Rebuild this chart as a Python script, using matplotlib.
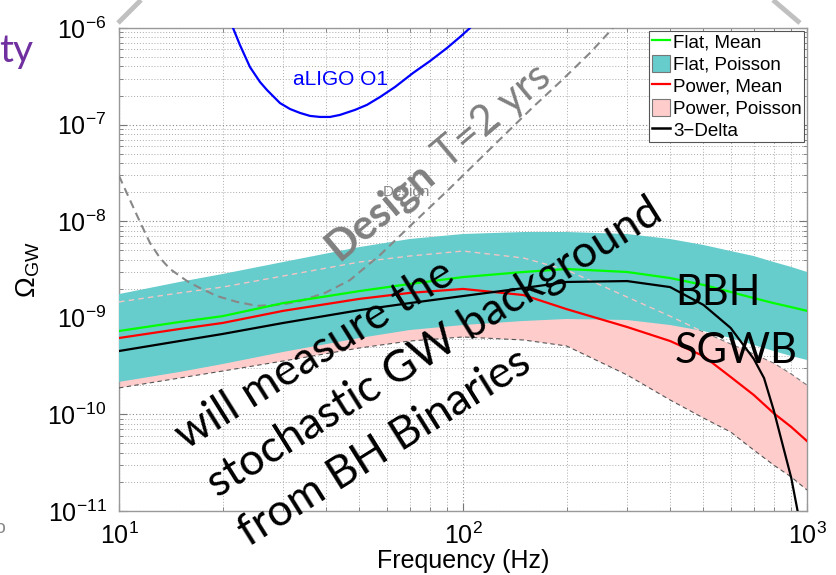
import numpy as np
import matplotlib
matplotlib.use("Agg")
import matplotlib.pyplot as plt
from matplotlib.lines import Line2D
from matplotlib.patches import Patch
from matplotlib.ticker import LogLocator, NullFormatter

plt.rcParams['font.family'] = ['Liberation Sans', 'DejaVu Sans']
plt.rcParams['mathtext.fontset'] = 'custom'
plt.rcParams['mathtext.rm'] = 'Liberation Sans'
plt.rcParams['mathtext.it'] = 'Liberation Sans:italic'
plt.rcParams['mathtext.default'] = 'regular'

# ---------------- data ----------------
freq = [10, 15, 20, 30, 50, 70, 100, 150, 200, 300, 400, 500, 600, 700, 800, 900, 1000]

flat_poisson_hi = [1.76e-9, 2.35e-9, 2.84e-9, 3.78e-9, 5.40e-9, 6.54e-9, 7.37e-9, 7.73e-9, 7.73e-9,
                   7.37e-9, 6.54e-9, 5.67e-9, 4.91e-9, 4.36e-9, 3.78e-9, 3.36e-9, 2.98e-9]
flat_poisson_lo = [2.17e-10, 2.75e-10, 3.32e-10, 4.43e-10, 6.18e-10, 7.47e-10, 8.42e-10, 9.27e-10, 9.72e-10,
                   9.49e-10, 8.42e-10, 7.30e-10, 6.18e-10, 5.23e-10, 4.53e-10, 4.02e-10, 3.66e-10]
power_poisson_hi = [1.46e-9, 1.81e-9, 2.08e-9, 2.71e-9, 3.78e-9, 4.36e-9, 4.91e-9, 4.16e-9, 3.13e-9,
                    1.64e-9, 1.04e-9, 7.13e-10, 5.36e-10, 4.22e-10, 3.40e-10, 2.62e-10, 2.01e-10]
power_poisson_lo = [1.88e-10, 2.38e-10, 2.81e-10, 3.57e-10, 4.87e-10, 5.75e-10, 6.33e-10, 5.89e-10, 5.11e-10,
                    2.56e-10, 1.41e-10, 9.18e-11, 6.57e-11, 4.28e-11, 2.99e-11, 2.25e-11, 1.65e-11]
flat_mean = [7.30e-10, 9.05e-10, 1.04e-9, 1.42e-9, 1.89e-9, 2.24e-9, 2.64e-9, 2.98e-9, 3.20e-9,
             2.98e-9, 2.58e-9, 2.19e-9, 1.85e-9, 1.60e-9, 1.42e-9, 1.29e-9, 1.18e-9]
power_mean = [6.18e-10, 7.66e-10, 8.84e-10, 1.18e-9, 1.57e-9, 1.81e-9, 1.99e-9, 1.72e-9, 1.23e-9,
              8.03e-10, 5.75e-10, 4.02e-10, 2.44e-10, 1.59e-10, 1.03e-10, 7.41e-11, 5.30e-11]

delta_freq = [10, 15, 20, 30, 50, 70, 100, 150, 200, 300, 400, 500, 600, 700, 750, 800, 850, 900, 950]
delta3 = [4.53e-10, 5.75e-10, 6.80e-10, 8.84e-10, 1.20e-9, 1.42e-9, 1.68e-9, 2.03e-9, 2.35e-9, 2.40e-9,
          2.08e-9, 1.36e-9, 7.85e-10, 3.76e-10, 2.38e-10, 1.11e-10, 4.82e-11, 2.20e-11, 8.07e-12]

aligo_freq = [21.0, 21.45, 22.47, 24.03, 25.70, 26.93, 29.38, 31.42, 33.60, 35.92, 38.41, 41.06, 43.90,
              48.53, 52.58, 57.38, 63.43, 71.55, 80.20, 89.85, 98.0, 104.8, 107.0]
aligo_o1 = [1.2e-6, 1.0e-6, 6.67e-7, 3.94e-7, 2.76e-7, 2.28e-7, 1.67e-7, 1.45e-7, 1.32e-7, 1.23e-7,
            1.20e-7, 1.20e-7, 1.26e-7, 1.42e-7, 1.60e-7, 1.93e-7, 2.45e-7, 3.42e-7, 4.55e-7, 6.21e-7,
            8.07e-7, 1.0e-6, 1.1e-6]

design_freq = [10.0, 10.41, 10.76, 11.51, 12.31, 13.16, 14.07, 15.77, 17.20, 19.27, 22.03, 25.19, 29.38,
               33.60, 39.71, 46.95, 57.38, 70.15, 89.85, 117.4, 159.8, 191.4, 233.9, 272.9]
design = [2.95e-8, 2.15e-8, 1.66e-8, 9.81e-9, 5.94e-9, 4.16e-9, 3.20e-9, 2.40e-9, 2.03e-9, 1.68e-9,
          1.46e-9, 1.33e-9, 1.36e-9, 1.49e-9, 1.81e-9, 2.46e-9, 4.47e-9, 8.91e-9, 2.05e-8, 5.20e-8,
          1.52e-7, 2.76e-7, 5.51e-7, 1.0e-6]

legend_labels = ['Flat, Mean', 'Flat, Poisson', 'Power, Mean', 'Power, Poisson', '3\u2212Delta']

# ---------------- figure ----------------
W, H = 837, 575
fig = plt.figure(figsize=(W / 100, H / 100), dpi=100)
ax = fig.add_axes([119 / W, 1 - 511 / H, (807 - 119) / W, (511 - 28) / H])
ax.set_xscale('log')
ax.set_yscale('log')
ax.set_xlim(10, 1000)
ax.set_ylim(1e-11, 1e-6)

teal = '#66CCCC'
pink = '#FFCCCC'

ax.fill_between(freq, power_poisson_lo, power_poisson_hi, facecolor=pink, edgecolor='none', zorder=2)
ax.plot(freq, power_poisson_hi, ls=(0, (4, 3)), color='#777777', lw=0.8, zorder=2.2)
teal_coll = ax.fill_between(freq, flat_poisson_lo, flat_poisson_hi, facecolor=teal,
                            edgecolor='none', zorder=3)
light, = ax.plot(freq, power_poisson_hi, ls=(0, (4, 3)), color='#F2C6C6', lw=1.0, zorder=3.2)
light.set_clip_path(teal_coll.get_paths()[0], teal_coll.get_transform())
ax.plot(freq, power_poisson_lo, ls=(0, (4, 3)), color='#555555', lw=0.8, zorder=3.3)

ax.plot(design_freq, design, ls=(0, (4, 2.5)), color='#888888', lw=1.5, zorder=3.5)
ax.plot(aligo_freq, aligo_o1, color='#0000FF', lw=1.6, zorder=4)
ax.plot(freq, flat_mean, color='#00FF00', lw=1.6, zorder=4)
ax.plot(freq, power_mean, color='#FF0000', lw=1.6, zorder=4)
ax.plot(delta_freq, delta3, color='black', lw=1.6, zorder=4.1)

ax.text(43.9, 2.93e-7, 'aLIGO O1', color='#0000FF', fontsize=15, ha='center', va='center', zorder=5)
ax.text(68.7, 2.0e-8, 'Design', color='#888888', fontsize=11, ha='center', va='center', zorder=5)

# grid / ticks
ax.xaxis.set_minor_locator(LogLocator(base=10, subs=np.arange(2, 10), numticks=100))
ax.yaxis.set_minor_locator(LogLocator(base=10, subs=np.arange(2, 10), numticks=100))
ax.xaxis.set_minor_formatter(NullFormatter())
ax.yaxis.set_minor_formatter(NullFormatter())
ax.yaxis.set_major_locator(LogLocator(base=10, numticks=100))
ax.grid(True, which='major', ls=(0, (1, 2)), color='#888888', lw=0.8, zorder=0)
ax.grid(True, which='minor', ls=(0, (1, 2)), color='#AAAAAA', lw=0.7, zorder=0)
ax.set_axisbelow(True)
ax.tick_params(which='both', direction='in', top=True, right=True, color='#777777')
ax.tick_params(which='major', length=6, labelsize=18)
ax.tick_params(which='minor', length=3)
ax.tick_params(axis='y', which='major', pad=9)
ax.tick_params(axis='x', which='major', pad=8)
for s in ax.spines.values():
    s.set_color('#999999')
    s.set_linewidth(1.0)

ax.set_xlabel('Frequency (Hz)', fontsize=18, labelpad=0)
ax.set_ylabel(r'$\Omega_{GW}$', fontsize=20, labelpad=4)

handles = [Line2D([], [], color='#00FF00', lw=1.6),
           Patch(facecolor=teal, edgecolor='#777777', lw=0.8),
           Line2D([], [], color='#FF0000', lw=1.6),
           Patch(facecolor=pink, edgecolor='#777777', lw=0.8),
           Line2D([], [], color='black', lw=1.8)]
leg = ax.legend(handles, legend_labels, loc='upper right', fontsize=13.5, frameon=True, fancybox=False,
                borderpad=0.12, labelspacing=0.17, handlelength=1.0, handleheight=1.0,
                handletextpad=0.15, borderaxespad=0.15, framealpha=1)
leg.get_frame().set_edgecolor('#555555')
leg.get_frame().set_linewidth(0.8)
leg.set_zorder(6)


# ---------------- slide overlay ----------------
def P(x, y):
    return (x / W, 1 - y / H)


for (x0, y0), (x1, y1) in [((118, 23), (141, 0)), ((773, 0), (800, 23))]:
    (a0, b0), (a1, b1) = P(x0, y0), P(x1, y1)
    fig.add_artist(Line2D([a0, a1], [b0, b1], color='#C0C0C0', lw=3.5, solid_capstyle='butt',
                          transform=fig.transFigure))

over_font = ['Lato', 'DejaVu Sans']
fig.text(*P(-1, 62), 'ty', color='#7030A0', fontsize=28, family=over_font, ha='left', va='baseline')
fig.text(*P(-6, 533), 'o', color='#888888', fontsize=14, ha='left', va='baseline')

rot = 32
lines = ['will measure the', 'stochastic GW background', 'from BH Binaries']
starts = [(186, 450), (218, 498), (249, 547)]
for txt, (x, y) in zip(lines, starts):
    fig.text(*P(x, y), txt, rotation=rot, rotation_mode='anchor', ha='left', va='baseline',
             fontsize=32, family=over_font, color='black', zorder=10)

fig.text(*P(339, 261), 'Design', rotation=40, rotation_mode='anchor', ha='left', va='baseline',
         fontsize=30, family=over_font, fontweight='bold', color='#808080', zorder=10)
fig.text(*P(448, 170), 'T=2 yrs', rotation=40, rotation_mode='anchor', ha='left', va='baseline',
         fontsize=30, family=over_font, color='#808080', zorder=10)

fig.text(*P(675, 305), 'BBH', ha='left', va='baseline', fontsize=30, family=over_font, color='black',
         zorder=10)
fig.text(*P(675, 363), 'SGWB', ha='left', va='baseline', fontsize=30, family=over_font, color='black',
         zorder=10)

fig.savefig('out.png', dpi=100)
